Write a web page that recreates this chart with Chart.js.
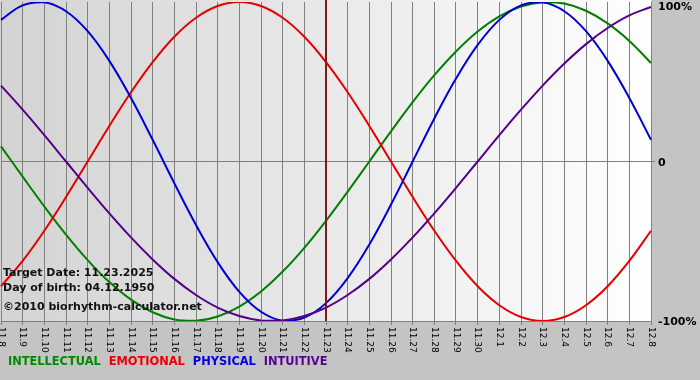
<!DOCTYPE html>
<html>
<head>
<meta charset="utf-8">
<script src="https://cdn.jsdelivr.net/npm/chart.js@4.4.1/dist/chart.umd.min.js"></script>
<style>
  html, body { margin: 0; padding: 0; background: #c4c4c4; }
  canvas { display: block; }
</style>
</head>
<body>
<canvas id="grafico" width="700" height="380"></canvas>
<script>
// days shown on the x axis
const dias = ['11.8', '11.9', '11.10', '11.11', '11.12', '11.13', '11.14', '11.15', '11.16', '11.17',
    '11.18', '11.19', '11.20', '11.21', '11.22', '11.23', '11.24', '11.25', '11.26', '11.27',
    '11.28', '11.29', '11.30', '12.1', '12.2', '12.3', '12.4', '12.5', '12.6', '12.7', '12.8'];

// values in percent
const intellectual = [9.5, -9.5, -28.2, -45.8, -61.8, -75.6, -86.6, -94.5, -99.0, -99.9, -97.2, -91.0, -81.5, -69.0, -54.1, -37.2,
    -18.9, 0, 18.9, 37.2, 54.1, 69.0, 81.5, 91.0, 97.2, 99.9, 99.0, 94.5, 86.6, 75.6, 61.8];
const emotional = [-78.2, -62.3, -43.4, -22.3, 0, 22.3, 43.4, 62.3, 78.2, 90.1, 97.5, 100, 97.5, 90.1, 78.2, 62.3,
    43.4, 22.3, 0, -22.3, -43.4, -62.3, -78.2, -90.1, -97.5, -100, -97.5, -90.1, -78.2, -62.3, -43.4];
const physical = [88.8, 97.9, 99.8, 94.2, 81.7, 63.1, 39.8, 13.6, -13.6, -39.8, -63.1, -81.7, -94.2, -99.8, -97.9, -88.8,
    -73.1, -52.0, -27.0, 0, 27.0, 52.0, 73.1, 88.8, 97.9, 99.8, 94.2, 81.7, 63.1, 39.8, 13.6];
const intuitive = [47.6, 32.5, 16.5, 0, -16.5, -32.5, -47.6, -61.4, -73.6, -83.7, -91.6, -96.9, -99.7, -99.7, -96.9, -91.6,
    -83.7, -73.6, -61.4, -47.6, -32.5, -16.5, 0, 16.5, 32.5, 47.6, 61.4, 73.6, 83.7, 91.6, 96.9];

const yTicks = [100, 0, -100];
const yTickLabels = ['100%', '0', '-100%'];
const diaAlvo = '11.23';
const textos = ['Target Date: 11.23.2025', 'Day of birth: 04.12.1950', '\u00a92010 biorhythm-calculator.net'];
const legenda = [
    { nome: 'INTELLECTUAL', cor: '#008a00' },
    { nome: 'EMOTIONAL', cor: '#ee0000' },
    { nome: 'PHYSICAL', cor: '#0000e0' },
    { nome: 'INTUITIVE', cor: '#5a0090' }
];

const fundo = {
    id: 'fundo',
    beforeDraw(chart) {
        const ctx = chart.ctx;
        const a = chart.chartArea;
        ctx.save();
        ctx.fillStyle = '#c4c4c4';
        ctx.fillRect(0, 0, chart.width, chart.height);
        const g = ctx.createLinearGradient(a.left, 0, a.right, 0);
        g.addColorStop(0, '#d3d3d3');
        g.addColorStop(1, '#ffffff');
        ctx.fillStyle = g;
        ctx.fillRect(0, 0, a.right, a.bottom);
        ctx.restore();
    },
    afterDatasetsDraw(chart) {
        const ctx = chart.ctx;
        const a = chart.chartArea;
        const x = chart.scales.x.getPixelForValue(dias.indexOf(diaAlvo));
        ctx.save();
        ctx.strokeStyle = '#7e1a1a';
        ctx.lineWidth = 2;
        ctx.beginPath();
        ctx.moveTo(x, 0);
        ctx.lineTo(x, a.bottom);
        ctx.stroke();
        ctx.restore();
    },
    afterDraw(chart) {
        const ctx = chart.ctx;
        const a = chart.chartArea;
        const sx = chart.scales.x;
        const sy = chart.scales.y;
        ctx.save();

        // x labels, rotated clockwise
        ctx.fillStyle = '#000';
        ctx.font = '9px "DejaVu Sans"';
        ctx.textAlign = 'left';
        ctx.textBaseline = 'middle';
        for (let i = 0; i < dias.length; i++) {
            ctx.save();
            ctx.translate(sx.getPixelForTick(i), a.bottom + 6);
            ctx.rotate(Math.PI / 2);
            ctx.fillText(dias[i], 0, 0);
            ctx.restore();
        }

        // y labels
        ctx.font = 'bold 11px "DejaVu Sans"';
        for (let i = 0; i < yTicks.length; i++) {
            let y = sy.getPixelForValue(yTicks[i]);
            y = Math.max(y + 1.5, 7.5);
            ctx.fillText(yTickLabels[i], a.right + 7, y);
        }

        // texts in the plot
        ctx.textBaseline = 'alphabetic';
        ctx.fillStyle = '#111';
        ctx.fillText(textos[0], 3, 276);
        ctx.fillText(textos[1], 3, 291);
        ctx.fillText(textos[2], 3, 310);

        // legend
        ctx.font = 'bold 11.4px "DejaVu Sans"';
        ctx.textBaseline = 'middle';
        let lx = 8;
        legenda.forEach(function (item) {
            ctx.fillStyle = item.cor;
            ctx.fillText(item.nome, lx, 362);
            lx += ctx.measureText(item.nome).width + 8;
        });
        ctx.restore();
    }
};

const grafico = document.getElementById('grafico');
new Chart(grafico, {
    type: 'line',
    data: {
        labels: dias,
        datasets: [
            { label: 'INTUITIVE', data: intuitive, borderColor: '#560088' },
            { label: 'PHYSICAL', data: physical, borderColor: '#0000d4' },
            { label: 'EMOTIONAL', data: emotional, borderColor: '#e60000' },
            { label: 'INTELLECTUAL', data: intellectual, borderColor: '#008000' }
        ]
    },
    options: {
        responsive: false,
        animation: false,
        layout: { padding: { top: 2, left: 1, right: 0, bottom: 0 } },
        elements: {
            line: { borderWidth: 2, tension: 0.4, fill: false },
            point: { radius: 0 }
        },
        plugins: {
            legend: { display: false },
            tooltip: { enabled: false }
        },
        scales: {
            x: {
                offset: false,
                ticks: { display: false },
                grid: { color: '#808080', lineWidth: 1, tickLength: 4 },
                border: { display: true, color: '#808080' },
                afterFit: function (s) { s.height = 59; }
            },
            y: {
                position: 'right',
                min: -100,
                max: 100,
                afterBuildTicks: function (s) { s.ticks = yTicks.map(v => ({ value: v })); },
                ticks: { display: false },
                grid: {
                    color: ctx => ctx.tick && ctx.tick.value === 0 ? '#808080' : 'rgba(0,0,0,0)',
                    tickLength: 4
                },
                border: { display: false },
                afterFit: function (s) { s.width = 49; }
            }
        }
    },
    plugins: [fundo]
});
</script>
</body>
</html>
